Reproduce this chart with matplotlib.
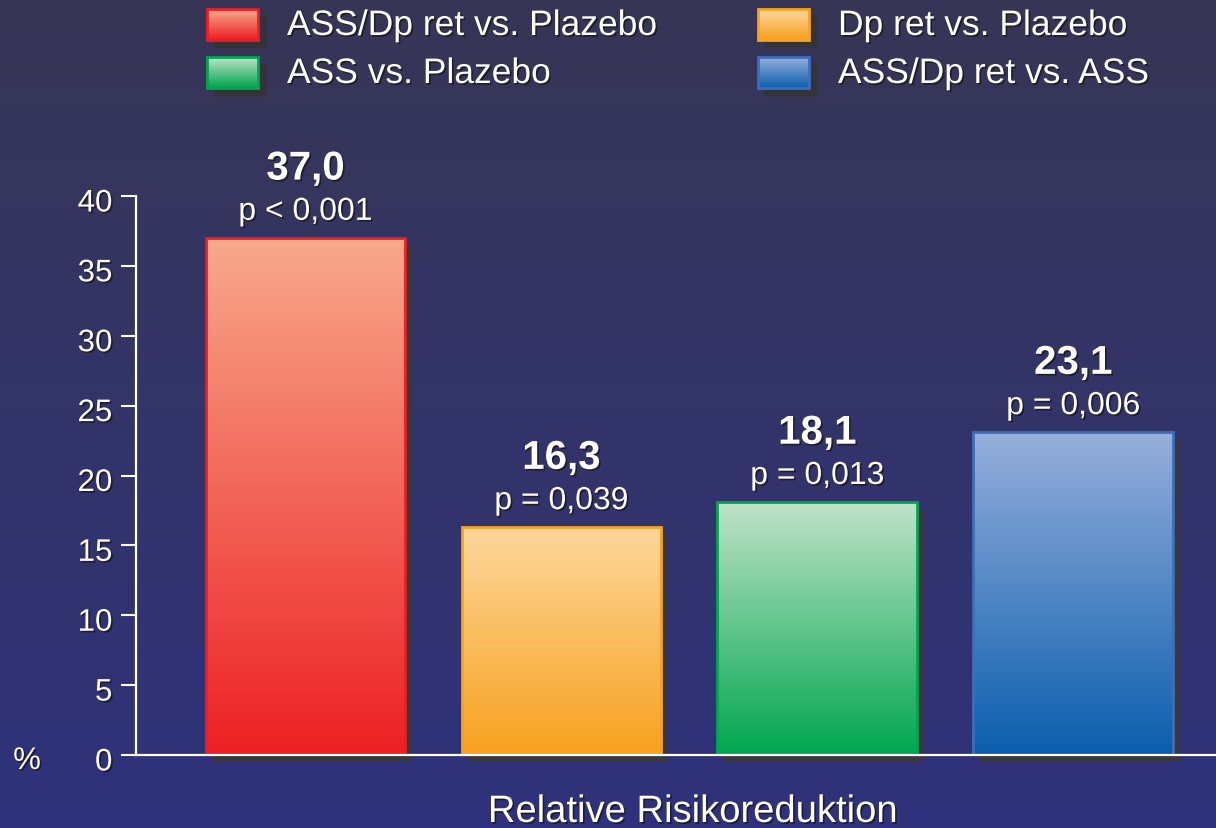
import numpy as np
import matplotlib
matplotlib.use('Agg')
import matplotlib.pyplot as plt
import matplotlib.transforms as mtransforms
import matplotlib.patheffects as pe
from matplotlib.colors import LinearSegmentedColormap
from matplotlib.patches import Rectangle

# Daten
labels = ['ASS/Dp ret vs. Plazebo', 'Dp ret vs. Plazebo', 'ASS vs. Plazebo', 'ASS/Dp ret vs. ASS']
values = [37.0, 16.3, 18.1, 23.1]
value_text = ['37,0', '16,3', '18,1', '23,1']
p_text = ['p < 0,001', 'p = 0,039', 'p = 0,013', 'p = 0,006']
y_ticks = [0, 5, 10, 15, 20, 25, 30, 35, 40]

# Farben: (oben, unten, Rand)
top_colors = ['#f8a98c', '#fdd79c', '#c0e3c9', '#97afdb']
bottom_colors = ['#ed2024', '#f7a11e', '#00a650', '#0b5eae']
edge_colors = ['#ee1c25', '#f6a31f', '#00a650', '#3d6ebd']

plt.rcParams['font.family'] = ['Liberation Sans', 'DejaVu Sans']

W, H = 1216, 829
fig = plt.figure(figsize=(W / 100, H / 100), dpi=100)

# Hintergrund mit Verlauf
bg = fig.add_axes([0, 0, 1, 1], zorder=-1)
bg.axis('off')
bg_cmap = LinearSegmentedColormap.from_list('bg', ['#373656', '#2f327b'])
bg.imshow(np.linspace(0, 1, 256).reshape(-1, 1), cmap=bg_cmap, aspect='auto',
          extent=[0, W, H, 0], origin='upper')

shadow = [pe.withSimplePatchShadow(offset=(1.2, -1.2), shadow_rgbFace='#151515', alpha=0.7)]

# Legende (manuell, mit Verlauf)
leg_pos = [(207, 10), (758, 10), (207, 58), (758, 58)]
for i, (lx, ly) in enumerate(leg_pos):
    bg.add_patch(Rectangle((lx + 7, ly + 7), 51, 31, color='#333338', zorder=1))
    cm = LinearSegmentedColormap.from_list('l%d' % i, [top_colors[i], bottom_colors[i]])
    bg.imshow(np.linspace(0, 1, 64).reshape(-1, 1), cmap=cm, aspect='auto',
              extent=[lx, lx + 51, ly + 31, ly], origin='upper', zorder=2)
    bg.add_patch(Rectangle((lx, ly), 51, 31, fill=False, edgecolor=edge_colors[i], lw=2, zorder=3))
    fig.text((lx + 80) / W, 1 - (ly + 26) / H, labels[i], color='white', fontsize=25.5,
             va='baseline', ha='left', path_effects=shadow)
bg.set_xlim(0, W)
bg.set_ylim(H, 0)

# Hauptdiagramm
ax = fig.add_axes([136 / W, (H - 756) / H, 1 - 136 / W, 559 / H])
ax.set_facecolor('none')
x = np.arange(len(values))
width = 0.78

shadow_tr = mtransforms.offset_copy(ax.transData, fig=fig, x=7, y=-7, units='dots')
ax.bar(x, values, width, color='#38383c', transform=shadow_tr, zorder=1, clip_on=False)

bars = ax.bar(x, values, width, facecolor='none', edgecolor=edge_colors, linewidth=2, zorder=3)
for i, b in enumerate(bars):
    cm = LinearSegmentedColormap.from_list('b%d' % i, [bottom_colors[i], top_colors[i]])
    x0, w, h = b.get_x(), b.get_width(), b.get_height()
    im = ax.imshow(np.linspace(0, 1, 256).reshape(-1, 1), cmap=cm, aspect='auto',
                   extent=[x0, x0 + w, 0, h], origin='lower', zorder=2)
    im.set_clip_path(b)
    ax.annotate(p_text[i], (x[i], values[i]), xytext=(0, 13), textcoords='offset points',
                ha='center', va='baseline', color='white', fontsize=23,
                annotation_clip=False, path_effects=shadow)
    ax.annotate(value_text[i], (x[i], values[i]), xytext=(0, 42), textcoords='offset points',
                ha='center', va='baseline', color='white', fontsize=29, fontweight='bold',
                annotation_clip=False, path_effects=shadow)

ax.set_xlim(-0.662, 3.558)
ax.set_ylim(0, 40)
ax.set_yticks(y_ticks)
ax.set_xticks([])
ax.tick_params(axis='y', colors='white', labelsize=22.5, length=11, width=1.5, direction='out', pad=6)
down = mtransforms.ScaledTranslation(0, -4 / 100, fig.dpi_scale_trans)
for lab in ax.get_yticklabels():
    lab.set_path_effects(shadow)
    lab.set_transform(lab.get_transform() + down)
for s in ['top', 'right']:
    ax.spines[s].set_visible(False)
for s in ['left', 'bottom']:
    ax.spines[s].set_color('white')
    ax.spines[s].set_linewidth(1.6)
    ax.spines[s].set_zorder(5)

fig.text(27 / W, 1 - 762 / H, '%', color='white', fontsize=22.5, ha='center', va='center',
         path_effects=shadow)
fig.text(693 / W, 1 - 823 / H, 'Relative Risikoreduktion', color='white', fontsize=27.5,
         ha='center', va='baseline', path_effects=shadow)

fig.savefig('out.png', dpi=100)
